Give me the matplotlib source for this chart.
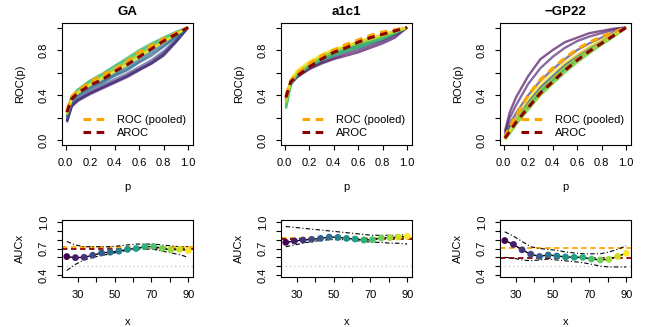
import numpy as np
import matplotlib.pyplot as plt
from matplotlib import cm

plt.rcParams['font.family'] = ['Liberation Sans', 'DejaVu Sans']

# false positive fractions where each ROC curve is read
p_grid = [0.01, 0.05, 0.1, 0.2, 0.3, 0.4, 0.5, 0.6, 0.7, 0.8, 0.9, 1.0]

# covariate values for the AUC panels
x_vals = [24.0, 28.7, 33.4, 38.1, 42.9, 47.6, 52.3, 57.0, 61.7, 66.4, 71.1, 75.9, 80.6, 85.3, 90.0]

titles = ['GA', 'a1c1', '\u2212GP22']

# ---- GA ----
ga_curves = [
    [0.17, 0.31, 0.36, 0.42, 0.47, 0.52, 0.57, 0.63, 0.69, 0.77, 0.88, 1.0],
    [0.16, 0.30, 0.35, 0.41, 0.46, 0.51, 0.56, 0.62, 0.68, 0.75, 0.87, 1.0],
    [0.17, 0.31, 0.36, 0.42, 0.47, 0.52, 0.57, 0.63, 0.68, 0.76, 0.87, 1.0],
    [0.18, 0.32, 0.37, 0.44, 0.49, 0.54, 0.59, 0.65, 0.71, 0.79, 0.89, 1.0],
    [0.20, 0.34, 0.39, 0.46, 0.51, 0.57, 0.62, 0.69, 0.75, 0.83, 0.91, 1.0],
    [0.21, 0.35, 0.40, 0.47, 0.52, 0.58, 0.63, 0.70, 0.77, 0.84, 0.92, 1.0],
    [0.22, 0.36, 0.41, 0.48, 0.53, 0.59, 0.65, 0.72, 0.79, 0.86, 0.93, 1.0],
    [0.24, 0.37, 0.43, 0.50, 0.55, 0.62, 0.68, 0.75, 0.82, 0.88, 0.94, 1.0],
    [0.25, 0.38, 0.44, 0.51, 0.57, 0.63, 0.70, 0.77, 0.83, 0.89, 0.95, 1.0],
    [0.26, 0.39, 0.45, 0.53, 0.59, 0.66, 0.72, 0.79, 0.85, 0.91, 0.96, 1.0],
    [0.26, 0.39, 0.45, 0.53, 0.59, 0.66, 0.73, 0.80, 0.86, 0.91, 0.96, 1.0],
    [0.25, 0.38, 0.44, 0.51, 0.57, 0.63, 0.70, 0.77, 0.83, 0.89, 0.95, 1.0],
    [0.24, 0.37, 0.43, 0.50, 0.56, 0.62, 0.68, 0.75, 0.81, 0.88, 0.94, 1.0],
    [0.24, 0.37, 0.43, 0.50, 0.56, 0.62, 0.69, 0.76, 0.82, 0.88, 0.94, 1.0],
    [0.23, 0.37, 0.42, 0.49, 0.55, 0.61, 0.67, 0.74, 0.81, 0.87, 0.94, 1.0],
]
ga_pooled = [0.27, 0.39, 0.44, 0.52, 0.58, 0.63, 0.70, 0.78, 0.84, 0.90, 0.95, 1.0]
ga_aroc = [0.25, 0.37, 0.42, 0.49, 0.54, 0.61, 0.67, 0.74, 0.81, 0.88, 0.94, 1.0]
ga_auc = [0.608, 0.596, 0.600, 0.623, 0.650, 0.658, 0.670, 0.690, 0.700, 0.720, 0.723, 0.700, 0.685, 0.690, 0.677]
ga_upper = [0.78, 0.74, 0.72, 0.72, 0.72, 0.72, 0.73, 0.74, 0.75, 0.75, 0.75, 0.74, 0.73, 0.72, 0.72]
ga_lower = [0.45, 0.52, 0.57, 0.60, 0.62, 0.64, 0.66, 0.68, 0.69, 0.70, 0.69, 0.67, 0.65, 0.63, 0.60]
ga_auc_pooled = 0.72
ga_auc_aroc = 0.69

# ---- a1c1 ----
a1c1_curves = [
    [0.36, 0.50, 0.56, 0.63, 0.68, 0.72, 0.75, 0.78, 0.82, 0.86, 0.91, 1.0],
    [0.36, 0.50, 0.56, 0.64, 0.69, 0.73, 0.77, 0.80, 0.84, 0.88, 0.93, 1.0],
    [0.36, 0.51, 0.57, 0.64, 0.70, 0.75, 0.79, 0.82, 0.86, 0.89, 0.94, 1.0],
    [0.37, 0.51, 0.57, 0.65, 0.71, 0.76, 0.80, 0.83, 0.87, 0.90, 0.95, 1.0],
    [0.37, 0.52, 0.58, 0.66, 0.72, 0.77, 0.81, 0.85, 0.88, 0.92, 0.96, 1.0],
    [0.38, 0.53, 0.59, 0.68, 0.74, 0.79, 0.83, 0.87, 0.90, 0.93, 0.97, 1.0],
    [0.36, 0.53, 0.59, 0.68, 0.74, 0.79, 0.83, 0.86, 0.90, 0.93, 0.97, 1.0],
    [0.32, 0.52, 0.59, 0.67, 0.73, 0.78, 0.81, 0.85, 0.88, 0.92, 0.96, 1.0],
    [0.30, 0.51, 0.59, 0.67, 0.72, 0.77, 0.80, 0.84, 0.87, 0.91, 0.95, 1.0],
    [0.28, 0.49, 0.58, 0.66, 0.71, 0.75, 0.79, 0.82, 0.86, 0.90, 0.95, 1.0],
    [0.29, 0.50, 0.58, 0.66, 0.71, 0.76, 0.79, 0.83, 0.87, 0.90, 0.95, 1.0],
    [0.32, 0.52, 0.60, 0.68, 0.73, 0.78, 0.82, 0.86, 0.89, 0.92, 0.96, 1.0],
    [0.33, 0.52, 0.60, 0.68, 0.74, 0.79, 0.82, 0.86, 0.89, 0.93, 0.96, 1.0],
    [0.35, 0.53, 0.61, 0.69, 0.75, 0.80, 0.83, 0.87, 0.90, 0.93, 0.97, 1.0],
    [0.37, 0.54, 0.62, 0.70, 0.76, 0.81, 0.84, 0.88, 0.91, 0.94, 0.97, 1.0],
]
a1c1_pooled = [0.40, 0.53, 0.59, 0.68, 0.75, 0.80, 0.85, 0.89, 0.93, 0.96, 0.98, 1.0]
a1c1_aroc = [0.38, 0.52, 0.57, 0.65, 0.72, 0.78, 0.82, 0.87, 0.91, 0.94, 0.97, 1.0]
a1c1_auc = [0.770, 0.785, 0.796, 0.804, 0.815, 0.830, 0.827, 0.815, 0.808, 0.796, 0.800, 0.820, 0.823, 0.830, 0.838]
a1c1_upper = [0.95, 0.94, 0.93, 0.92, 0.91, 0.90, 0.89, 0.88, 0.87, 0.86, 0.85, 0.85, 0.85, 0.85, 0.86]
a1c1_lower = [0.72, 0.74, 0.76, 0.78, 0.79, 0.80, 0.80, 0.80, 0.79, 0.78, 0.77, 0.77, 0.76, 0.76, 0.75]
a1c1_auc_pooled = 0.823
a1c1_auc_aroc = 0.81

# ---- -GP22 ----
gp22_curves = [
    [0.08, 0.25, 0.38, 0.57, 0.72, 0.80, 0.87, 0.91, 0.95, 0.97, 0.99, 1.0],
    [0.06, 0.20, 0.31, 0.50, 0.64, 0.74, 0.82, 0.88, 0.92, 0.95, 0.98, 1.0],
    [0.04, 0.15, 0.24, 0.40, 0.53, 0.63, 0.72, 0.80, 0.86, 0.91, 0.96, 1.0],
    [0.03, 0.12, 0.20, 0.34, 0.47, 0.57, 0.67, 0.75, 0.82, 0.88, 0.94, 1.0],
    [0.03, 0.10, 0.18, 0.31, 0.44, 0.54, 0.64, 0.72, 0.80, 0.87, 0.93, 1.0],
    [0.03, 0.11, 0.19, 0.33, 0.46, 0.56, 0.66, 0.74, 0.81, 0.88, 0.94, 1.0],
    [0.03, 0.10, 0.18, 0.32, 0.45, 0.55, 0.65, 0.73, 0.80, 0.87, 0.93, 1.0],
    [0.02, 0.09, 0.17, 0.31, 0.43, 0.54, 0.63, 0.72, 0.79, 0.86, 0.93, 1.0],
    [0.02, 0.09, 0.17, 0.30, 0.43, 0.53, 0.63, 0.71, 0.79, 0.86, 0.93, 1.0],
    [0.02, 0.08, 0.16, 0.30, 0.42, 0.53, 0.63, 0.72, 0.79, 0.86, 0.93, 1.0],
    [0.01, 0.07, 0.15, 0.28, 0.41, 0.51, 0.61, 0.70, 0.78, 0.85, 0.92, 1.0],
    [0.01, 0.06, 0.14, 0.27, 0.40, 0.50, 0.60, 0.69, 0.77, 0.85, 0.92, 1.0],
    [0.01, 0.07, 0.14, 0.28, 0.40, 0.51, 0.61, 0.70, 0.78, 0.85, 0.92, 1.0],
    [0.01, 0.08, 0.17, 0.32, 0.45, 0.55, 0.65, 0.73, 0.80, 0.87, 0.93, 1.0],
    [0.01, 0.09, 0.20, 0.37, 0.50, 0.60, 0.69, 0.76, 0.83, 0.89, 0.95, 1.0],
]
gp22_pooled = [0.03, 0.12, 0.22, 0.40, 0.54, 0.64, 0.73, 0.81, 0.87, 0.92, 0.96, 1.0]
gp22_aroc = [0.02, 0.08, 0.16, 0.29, 0.42, 0.52, 0.62, 0.71, 0.79, 0.86, 0.93, 1.0]
gp22_auc = [0.790, 0.746, 0.685, 0.635, 0.610, 0.627, 0.615, 0.604, 0.600, 0.600, 0.580, 0.570, 0.577, 0.610, 0.646]
gp22_upper = [0.89, 0.84, 0.78, 0.72, 0.70, 0.69, 0.68, 0.66, 0.65, 0.64, 0.64, 0.64, 0.66, 0.69, 0.73]
gp22_lower = [0.60, 0.59, 0.57, 0.56, 0.57, 0.58, 0.57, 0.56, 0.55, 0.54, 0.52, 0.50, 0.49, 0.49, 0.49]
gp22_auc_pooled = 0.704
gp22_auc_aroc = 0.596

panels = [
    (ga_curves, ga_pooled, ga_aroc, ga_auc, ga_upper, ga_lower, ga_auc_pooled, ga_auc_aroc),
    (a1c1_curves, a1c1_pooled, a1c1_aroc, a1c1_auc, a1c1_upper, a1c1_lower, a1c1_auc_pooled, a1c1_auc_aroc),
    (gp22_curves, gp22_pooled, gp22_aroc, gp22_auc, gp22_upper, gp22_lower, gp22_auc_pooled, gp22_auc_aroc),
]

W, H = 655, 327
fig = plt.figure(figsize=(W / 100, H / 100), dpi=100)

lefts = [62, 281, 500]
colors = cm.viridis(np.linspace(0, 1, len(x_vals)))
orange = '#FFA500'
darkred = '#8B0000'
fs = 8


def style(ax):
    for s in ax.spines.values():
        s.set_linewidth(0.8)
    ax.tick_params(direction='out', length=3.5, width=0.8, labelsize=fs, pad=6)
    for lab in ax.get_yticklabels():
        lab.set_rotation(90)
        lab.set_va('center')


for i, (curves, pooled, aroc, auc, upper, lower, auc_pooled, auc_aroc) in enumerate(panels):
    # ROC panel
    ax = fig.add_axes([lefts[i] / W, 1 - 145 / H, 131 / W, 122 / H])
    for c, col in zip(curves, colors):
        ax.plot(p_grid, c, color=col, lw=1.7, alpha=0.65, solid_capstyle='butt')
    ax.plot(p_grid, pooled, color=orange, lw=2.2, ls=(0, (2.5, 1.8)), label='ROC (pooled)')
    ax.plot(p_grid, aroc, color=darkred, lw=2.2, ls=(0, (2.5, 1.8)), label='AROC')
    ax.set_xlim(-0.03, 1.04)
    ax.set_ylim(-0.04, 1.04)
    ax.set_xticks([0, 0.2, 0.4, 0.6, 0.8, 1.0])
    ax.set_yticks([0, 0.2, 0.4, 0.6, 0.8, 1.0])
    ax.set_yticklabels(['0.0', '', '0.4', '', '0.8', ''])
    ax.set_xticklabels(['0.0', '0.2', '0.4', '0.6', '0.8', '1.0'])
    ax.set_title(titles[i], fontsize=9.5, fontweight='bold', pad=6)
    ax.set_xlabel('p', fontsize=fs)
    ax.set_ylabel('ROC(p)', fontsize=fs)
    ax.xaxis.set_label_coords(0.5, -0.3)
    ax.yaxis.set_label_coords(-0.28, 0.5)
    ax.legend(loc='lower right', frameon=False, fontsize=fs, handlelength=2.2,
              handletextpad=0.9, labelspacing=0.3, borderaxespad=0.2)
    style(ax)

    # AUC panel
    bx = fig.add_axes([lefts[i] / W, 1 - 277 / H, 131 / W, 57 / H])
    bx.axhline(0.5, color='#cccccc', lw=1.0, ls=(0, (1, 2)))
    bx.axhline(auc_pooled, color=orange, lw=1.3, ls=(0, (3, 2)))
    bx.axhline(auc_aroc, color=darkred, lw=1.3, ls=(0, (3, 2)))
    bx.plot(x_vals, upper, color='black', lw=0.8, ls=(0, (4, 2, 1, 2)))
    bx.plot(x_vals, lower, color='black', lw=0.8, ls=(0, (4, 2, 1, 2)))
    bx.plot(x_vals, auc, color='black', lw=1.0)
    bx.scatter(x_vals, auc, c=colors, s=24, zorder=3, edgecolors='none')
    bx.set_xlim(21.4, 92.6)
    bx.set_ylim(0.376, 1.024)
    bx.set_xticks([30, 40, 50, 60, 70, 80, 90])
    bx.set_xticklabels(['30', '', '50', '', '70', '', '90'])
    bx.set_yticks([0.4, 0.5, 0.6, 0.7, 0.8, 0.9, 1.0])
    bx.set_yticklabels(['0.4', '', '', '0.7', '', '', '1.0'])
    bx.set_xlabel('x', fontsize=fs)
    bx.set_ylabel('AUCx', fontsize=fs)
    bx.xaxis.set_label_coords(0.5, -0.7)
    bx.yaxis.set_label_coords(-0.28, 0.5)
    style(bx)

fig.savefig('out.png', dpi=100)
